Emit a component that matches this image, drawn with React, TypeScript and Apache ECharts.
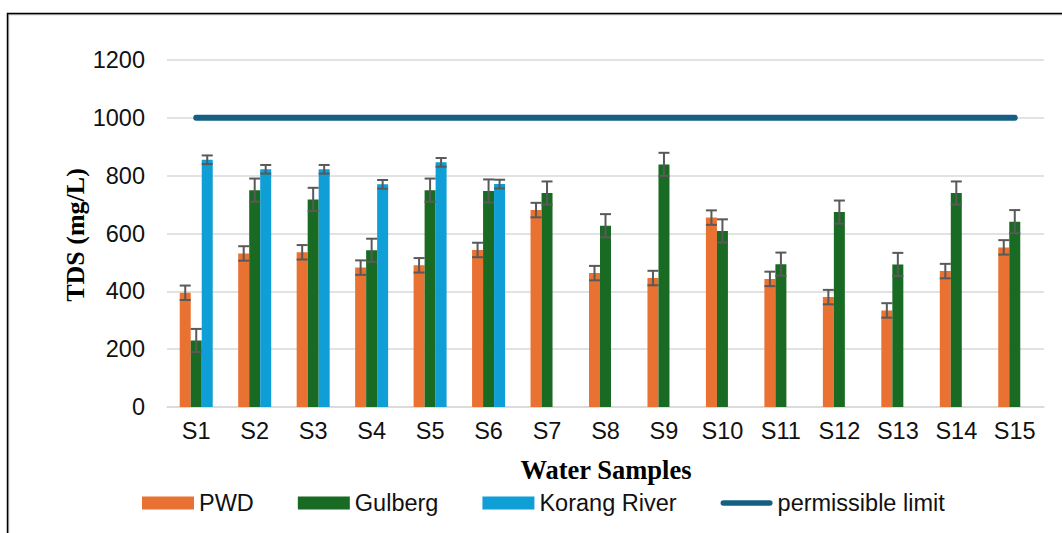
import React, { useEffect, useRef } from "react";
import * as echarts from "echarts";

const categories = ["S1", "S2", "S3", "S4", "S5", "S6", "S7", "S8", "S9", "S10", "S11", "S12", "S13", "S14", "S15"];
const pwdValues = [395, 531, 535, 482, 490, 543, 681, 463, 446, 655, 443, 380, 334, 470, 552];
const pwdErrors = [25, 25, 25, 25, 25, 25, 25, 25, 25, 25, 25, 25, 25, 25, 25];
const gulbergValues = [230, 750, 718, 542, 750, 747, 740, 627, 839, 609, 494, 674, 493, 740, 641];
const gulbergErrors = [40, 40, 40, 40, 40, 40, 40, 40, 40, 40, 40, 40, 40, 40, 40];
const korangValues = [855, 822, 822, 770, 846, 771, null, null, null, null, null, null, null, null, null];
const korangErrors = [15, 15, 15, 15, 15, 15, null, null, null, null, null, null, null, null, null];
const limitValues = [1000, 1000, 1000, 1000, 1000, 1000, 1000, 1000, 1000, 1000, 1000, 1000, 1000, 1000, 1000];
const yTicks = { min: 0, max: 1200, interval: 200 };

const SANS = "'Liberation Sans', Arial, sans-serif";
const SERIF = "'Liberation Serif', 'Times New Roman', serif";
const BAR_W = 11;
const LINE_ICON = "path://M0,0M0,13M3,3.5L53,3.5A3,3,0,0,1,53,9.5L3,9.5A3,3,0,0,1,3,3.5Z";

function errorSeries(name: string, values: (number | null)[], errors: (number | null)[], offset: number) {
  const data = values
    .map((v, i) => (v == null ? null : [i, v, errors[i] as number]))
    .filter((d) => d !== null);
  return {
    type: "custom",
    name: name + " error",
    z: 5,
    silent: true,
    data,
    encode: { x: 0, y: 1 },
    renderItem: (params: any, api: any) => {
      const idx = api.value(0);
      const val = api.value(1);
      const err = api.value(2);
      const top = api.coord([idx, val + err]);
      const bot = api.coord([idx, val - err]);
      const cx = top[0] + offset;
      const half = BAR_W / 2;
      const style = { stroke: "#595959", lineWidth: 2 };
      return {
        type: "group",
        children: [
          { type: "line", shape: { x1: cx, y1: top[1], x2: cx, y2: bot[1] }, style },
          { type: "line", shape: { x1: cx - half, y1: top[1], x2: cx + half, y2: top[1] }, style },
          { type: "line", shape: { x1: cx - half, y1: bot[1], x2: cx + half, y2: bot[1] }, style },
        ],
      };
    },
  };
}

export default function App() {
  const ref = useRef<HTMLDivElement>(null);
  useEffect(() => {
    if (!ref.current) return;
    const chart = echarts.init(ref.current, undefined, { renderer: "svg" });
    chart.setOption({
      animation: false,
      backgroundColor: "#ffffff",
      grid: { left: 167, right: 18, top: 60, bottom: 126, containLabel: false },
      legend: {
        left: 137,
        top: 486,
        itemWidth: 52,
        itemHeight: 13,
        itemGap: 44,
        textStyle: { fontFamily: SANS, fontSize: 23.5, color: "#111" },
        data: [
          { name: "PWD", icon: "rect" },
          { name: "Gulberg", icon: "rect" },
          { name: "Korang River", icon: "rect" },
          { name: "permissible limit", icon: LINE_ICON, itemStyle: { color: "#156082" } },
        ],
      },
      xAxis: {
        type: "category",
        data: categories,
        axisLine: { lineStyle: { color: "#d9d9d9", width: 1.5 } },
        axisTick: { show: false },
        axisLabel: { fontFamily: SANS, fontSize: 23.5, color: "#111", margin: 12 },
      },
      yAxis: {
        type: "value",
        min: yTicks.min,
        max: yTicks.max,
        interval: yTicks.interval,
        axisLine: { show: false },
        axisTick: { show: false },
        axisLabel: {
          fontFamily: SANS,
          fontSize: 23.5,
          color: "#111",
          margin: 22,
          formatter: (v: number) => String(v),
        },
        splitLine: { lineStyle: { color: "#d9d9d9", width: 1.5 } },
      },
      graphic: [
        {
          type: "rect",
          shape: { x: 8.5, y: 14.5, width: 1200, height: 700 },
          style: { fill: "none", stroke: "#bdbdbd", lineWidth: 1.5 },
          silent: true,
        },
        {
          type: "rect",
          shape: { x: 7.5, y: 13.5, width: 1200, height: 700 },
          style: { fill: "none", stroke: "#000", lineWidth: 1.5 },
          silent: true,
        },
        {
          type: "text",
          x: 75,
          y: 235,
          rotation: Math.PI / 2,
          style: {
            text: "TDS (mg/L)",
            font: `bold 26px ${SERIF}`,
            fill: "#000",
            align: "center",
            verticalAlign: "middle",
          },
        },
        {
          type: "text",
          x: 606,
          y: 470,
          style: {
            text: "Water Samples",
            font: `bold 26.5px ${SERIF}`,
            fill: "#000",
            align: "center",
            verticalAlign: "middle",
          },
        },
      ],
      series: [
        {
          name: "PWD",
          type: "bar",
          barWidth: BAR_W,
          barGap: "0%",
          itemStyle: { color: "#E97132" },
          data: pwdValues,
        },
        {
          name: "Gulberg",
          type: "bar",
          barWidth: BAR_W,
          barGap: "0%",
          itemStyle: { color: "#196B24" },
          data: gulbergValues,
        },
        {
          name: "Korang River",
          type: "bar",
          barWidth: BAR_W,
          barGap: "0%",
          itemStyle: { color: "#0F9ED5" },
          data: korangValues,
        },
        {
          name: "permissible limit",
          type: "line",
          symbol: "none",
          z: 4,
          itemStyle: { color: "#156082" },
          lineStyle: { color: "#156082", width: 6, cap: "round" },
          data: limitValues,
        },
        errorSeries("PWD", pwdValues, pwdErrors, -BAR_W),
        errorSeries("Gulberg", gulbergValues, gulbergErrors, 0),
        errorSeries("Korang River", korangValues, korangErrors, BAR_W),
      ],
    });
    return () => chart.dispose();
  }, []);
  return <div ref={ref} style={{ width: 1062, height: 533, position: "absolute", left: 0, top: 0 }} />;
}
